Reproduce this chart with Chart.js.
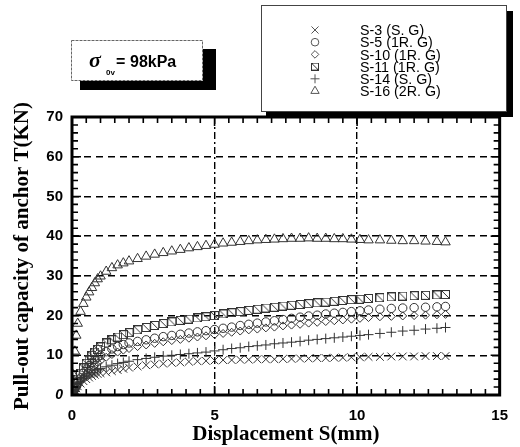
<!DOCTYPE html>
<html>
<head>
<meta charset="utf-8">
<script src="https://cdn.jsdelivr.net/npm/chart.js@4/dist/chart.umd.min.js"></script>
<style>
html,body{margin:0;padding:0;background:#fff;}
#wrap{width:520px;height:447px;position:relative;}
</style>
</head>
<body>
<div id="wrap"><canvas id="c" width="520" height="447"></canvas></div>
<script>
// ---- data ----
const displacement = [0,0.05,0.1,0.15,0.2,0.3,0.4,0.5,0.6,0.7,0.8,0.9,1.0,1.2,1.4,1.6,1.8,2.0,2.3,2.6,2.9,3.2,3.5,3.8,4.1,4.4,4.7,5.0,5.3,5.6,5.9,6.2,6.5,6.8,7.1,7.4,7.7,8.0,8.3,8.6,8.9,9.2,9.5,9.8,10.1,10.4,10.8,11.2,11.6,12.0,12.4,12.8,13.1];
const s3  = [0,0.6,1.2,1.7,2.2, 2.9,3.5,4.0,4.4,4.8,5.1,5.3,5.5, 5.7,6.0,6.3,6.6,6.9, 7.2,7.5,7.7,7.9,8.1,8.2,8.4,8.5,8.6,8.7, 8.8,8.8,8.9,8.9,9.0,9.0,9.0,9.1,9.1,9.2, 9.2,9.3,9.3,9.4,9.4,9.5,9.5, 9.6,9.6,9.7,9.7,9.7,9.8,9.8,9.8];
const s5  = [0,0.8,1.5,2.2,3.0, 4.3,5.5,6.5,7.4,8.2,8.9,9.5,10.0, 10.9,11.6,12.2,12.7,13.1, 13.5,13.9,14.3,14.7,15.0,15.3,15.6,15.9,16.2,16.5, 16.8,17.1,17.5,17.8,18.1,18.4,18.7,19.0,19.3,19.6, 19.9,20.1,20.4,20.6,20.8,21.0,21.2, 21.4,21.6,21.8,21.9,22.0,22.1,22.2,22.3];
const s10 = [0,0.6,1.2,1.8,2.4, 3.5,4.5,5.4,6.2,6.9,7.5,8.1,8.6, 9.5,10.2,10.8,11.3,11.7, 12.2,12.6,13.0,13.4,13.7,14.0,14.3,14.6,14.9,15.2, 15.5,15.8,16.1,16.4,16.6,16.9,17.1,17.4,17.6,17.8, 18.1,18.3,18.5,18.7,18.9,19.1,19.3, 19.5,19.7,19.8,19.9,20.0,20.1,20.2,20.3];
const s11 = [0,1,2,3,4, 5.5,6.8,8.0,9.0,10.0,10.8,11.5,12.1, 13.1,13.9,14.6,15.2,15.7, 16.4,17.0,17.5,18.0,18.4,18.8,19.1,19.4,19.7,20.0, 20.4,20.7,21.0,21.3,21.6,21.9,22.1,22.4,22.6,22.8, 23.0,23.2,23.4,23.6,23.8,24.0,24.1, 24.3,24.5,24.7,24.9,25.0,25.1,25.2,25.3];
const s14 = [0,0.8,1.5,2.1,2.7, 3.5,4.2,4.8,5.3,5.7,6.1,6.4,6.7, 7.1,7.5,7.9,8.2,8.5, 8.9,9.2,9.5,9.8,10.0,10.2,10.4,10.6,10.8,11.1, 11.4,11.7,11.9,12.2,12.4,12.6,12.9,13.1,13.3,13.5, 13.8,14.0,14.2,14.4,14.6,14.8,15.0, 15.2,15.5,15.8,16.1,16.3,16.6,16.8,17.0];
const s16 = [0,5,11,15,18, 21,23,24.6,25.9,27.0,28.2,29.2,29.9, 31.1,32.0,32.7,33.2,33.7, 34.3,34.9,35.4,35.8,36.2,36.6,37.0,37.3,37.6,37.9, 38.2,38.4,38.6,38.8,39.0,39.1,39.2,39.3,39.4,39.4, 39.5,39.4,39.4,39.3,39.3,39.2,39.1, 39.0,39.0,38.9,38.8,38.8,38.7,38.6,38.5];
const seriesLabels = ['S-3 (S. G)','S-5 (1R. G)','S-10 (1R. G)','S-11 (1R. G)','S-14 (S. G)','S-16 (2R. G)'];
const seriesValues = [s3, s5, s10, s11, s14, s16];
const xTickLabels = [0,5,10,15];
const yTickLabels = [0,10,20,30,40,50,60,70];
const boxLabel = '98kPa';

// ---- styles ----
const MARK = '#333';
function makeSqDiag(size){
  const c = document.createElement('canvas');
  c.width = size; c.height = size;
  const g = c.getContext('2d');
  g.strokeStyle = MARK; g.lineWidth = 1;
  g.strokeRect(0.5,0.5,size-1,size-1);
  g.beginPath(); g.moveTo(0.5,0.5); g.lineTo(size-0.5,size-0.5); g.stroke();
  return c;
}
const sqDiag = makeSqDiag(9);
const sqDiagSmall = makeSqDiag(8);
const markerStyles = [
  {pointStyle:'crossRot', radius:5.5},
  {pointStyle:'circle', radius:4.2},
  {pointStyle:'rectRot', radius:4},
  {pointStyle:sqDiag, radius:5},
  {pointStyle:'cross', radius:5},
  {pointStyle:'triangle', radius:5.5}
];
const legendStyles = [
  {pointStyle:'crossRot', radius:5},
  {pointStyle:'circle', radius:3.8},
  {pointStyle:'rectRot', radius:3.8},
  {pointStyle:sqDiagSmall, radius:4},
  {pointStyle:'cross', radius:4.5},
  {pointStyle:'triangle', radius:4.8}
];

const datasets = seriesValues.map((vals, i) => ({
  label: seriesLabels[i],
  data: displacement.map((x, j) => ({x: x, y: vals[j]})),
  showLine: false,
  pointStyle: markerStyles[i].pointStyle,
  pointRadius: markerStyles[i].radius,
  pointBorderWidth: 1,
  borderColor: MARK,
  backgroundColor: 'rgba(0,0,0,0)',
  pointBackgroundColor: 'rgba(0,0,0,0)'
}));

const tickFont = {family:"'Liberation Sans', Arial, sans-serif", size:15, weight:'bold'};
const tickFontZero = {family:"'Liberation Sans', Arial, sans-serif", size:14, weight:'bold', style:'italic'};
const titleFont = {family:"'Liberation Serif', 'Times New Roman', serif", size:21, weight:'bold'};

const framePlugin = {
  id: 'frameTicks',
  afterDraw(chart){
    const {ctx, chartArea:a, scales} = chart;
    const xs = scales.x, ys = scales.y;
    ctx.save();
    ctx.strokeStyle = '#000';
    ctx.lineWidth = 1.6;
    ctx.setLineDash([]);
    ctx.beginPath();
    xs.ticks.forEach(t => {
      const px = xs.getPixelForValue(t.value);
      const L = (Math.abs(t.value % 5) < 1e-6) ? 9 : 6;
      ctx.moveTo(px, a.bottom); ctx.lineTo(px, a.bottom - L);
      ctx.moveTo(px, a.top); ctx.lineTo(px, a.top + L);
    });
    ys.ticks.forEach(t => {
      const py = ys.getPixelForValue(t.value);
      const L = (Math.abs(t.value % 10) < 1e-6) ? 9 : 6;
      ctx.moveTo(a.left, py); ctx.lineTo(a.left + L, py);
      ctx.moveTo(a.right, py); ctx.lineTo(a.right - L, py);
    });
    ctx.stroke();
    ctx.lineWidth = 3;
    ctx.strokeRect(a.left, a.top, a.right - a.left, a.bottom - a.top);

    // sigma box
    ctx.fillStyle = '#000';
    ctx.fillRect(80, 49, 136, 41);
    ctx.fillStyle = '#fff';
    ctx.fillRect(71, 40, 132, 41);
    ctx.strokeStyle = '#666';
    ctx.lineWidth = 1;
    ctx.setLineDash([3,1]);
    ctx.strokeRect(71.5, 40.5, 131, 40);
    ctx.setLineDash([]);
    ctx.fillStyle = '#000';
    ctx.textBaseline = 'alphabetic';
    ctx.textAlign = 'left';
    ctx.font = "bold italic 22px 'Liberation Serif', serif";
    ctx.fillText('\u03c3', 89, 67);
    ctx.font = "bold 8px 'Liberation Sans', sans-serif";
    ctx.fillText('0v', 106, 75);
    ctx.font = "bold 16px 'Liberation Sans', Arial, sans-serif";
    ctx.fillText('=', 116, 67);
    ctx.fillText(boxLabel, 130, 67);

    // legend box
    ctx.fillStyle = '#000';
    ctx.fillRect(266, 11, 247, 106);
    ctx.fillStyle = '#fff';
    ctx.fillRect(261, 5, 246, 107);
    ctx.strokeStyle = '#444';
    ctx.lineWidth = 1;
    ctx.strokeRect(261.5, 5.5, 245, 106);
    const h = Chart.helpers;
    seriesLabels.forEach((lab, i) => {
      const cy = 30 + 12.2 * i;
      ctx.save();
      ctx.strokeStyle = '#555';
      ctx.fillStyle = 'rgba(0,0,0,0)';
      ctx.lineWidth = 1;
      if (h && h.drawPoint) {
        h.drawPoint(ctx, {pointStyle: legendStyles[i].pointStyle, radius: legendStyles[i].radius, borderWidth: 1, rotation: 0}, 315, cy);
      }
      ctx.restore();
      ctx.save();
      ctx.fillStyle = '#000';
      ctx.textBaseline = 'middle';
      ctx.font = "15px 'Liberation Sans', Arial, sans-serif";
      ctx.translate(360, cy + 1);
      ctx.scale(0.95, 1);
      ctx.fillText(lab, 0, 0);
      ctx.restore();
    });
    ctx.restore();
  }
};

new Chart(document.getElementById('c'), {
  type: 'scatter',
  data: {datasets: datasets},
  plugins: [framePlugin],
  options: {
    responsive: false,
    animation: false,
    devicePixelRatio: 1,
    layout: {padding: {top: 117, right: 12, left: 0, bottom: 0}},
    plugins: {legend: {display: false}, tooltip: {enabled: false}},
    scales: {
      x: {
        type: 'linear', min: 0, max: 15,
        afterFit(s){ s.height = 52; },
        ticks: {
          stepSize: 0.5, autoSkip: false, maxRotation: 0, padding: 12,
          color: '#000', font: tickFont,
          callback: (v) => xTickLabels.includes(v) ? String(v) : ''
        },
        grid: {
          drawTicks: false, lineWidth: 1.4,
          color: (c) => (c.tick && (c.tick.value === 5 || c.tick.value === 10)) ? '#000' : 'rgba(0,0,0,0)'
        },
        border: {display: false, dash: [7,3,2,3]},
        title: {display: true, text: 'Displacement S(mm)', color: '#000', font: titleFont, padding: {top: 0, bottom: 0}}
      },
      y: {
        type: 'linear', min: 0, max: 70,
        afterFit(s){ s.width = 72; },
        ticks: {
          stepSize: 2, autoSkip: false, padding: 9,
          color: '#000',
          font: (c) => (c.tick && c.tick.value === 0) ? tickFontZero : tickFont,
          callback: (v) => yTickLabels.includes(v) ? String(v) : ''
        },
        grid: {
          drawTicks: false, lineWidth: 1.4,
          color: (c) => (c.tick && c.tick.value % 10 === 0 && c.tick.value > 0 && c.tick.value < 70) ? '#000' : 'rgba(0,0,0,0)'
        },
        border: {display: false, dash: [7,5]},
        title: {display: true, text: 'Pull-out capacity of anchor T(KN)', color: '#000', font: titleFont, padding: {top: 10, bottom: 0}}
      }
    }
  }
});
</script>
</body>
</html>
